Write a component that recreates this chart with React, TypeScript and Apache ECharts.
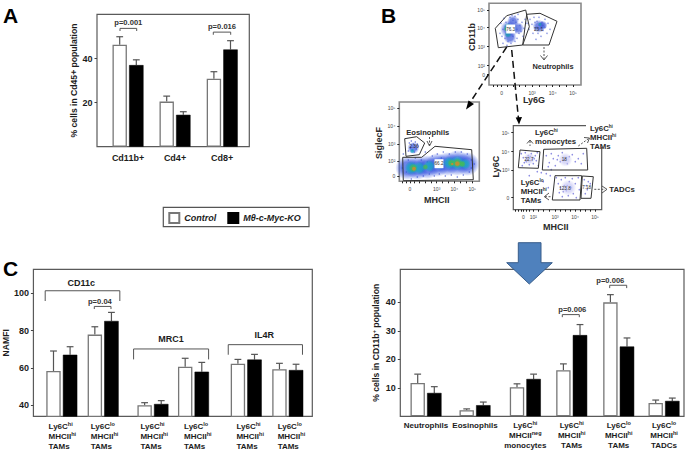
import React, { useEffect, useRef } from "react";
import * as echarts from "echarts";

const FONT = "'Liberation Sans', Arial, sans-serif";
const INK = "#1c1c1c";
const BOX = "#5a5a5a";
const CONTROL = "Control";
const KO = "Mθ-c-Myc-KO";

// Panel A
const aCats = ["Cd11b+", "Cd4+", "Cd8+"];
const aSlots = [31, 78, 125.2];
const aWhite = [46.4, 20.5, 30.9];
const aWhiteTop = [50, 23, 34.1];
const aBlack = [37.1, 14.5, 44.2];
const aBlackTop = [39.5, 15.9, 48.2];
const aTicks = [20, 40];
const aBrackets = [
  { x0: 23, x1: 39.7, top: 53.8, bottom: 52.6, lx: 31.3, ly: 56.4, text: "p=0.001" },
  { x0: 116.3, x1: 133.7, top: 52.1, bottom: 50.9, lx: 125, ly: 54.5, text: "p=0.016" },
];

// Panel C
const cCats = [
  "Ly6C{s|hi}\nMHCII{s|hi}\nTAMs", "Ly6C{s|lo}\nMHCII{s|hi}\nTAMs",
  "Ly6C{s|hi}\nMHCII{s|hi}\nTAMs", "Ly6C{s|lo}\nMHCII{s|hi}\nTAMs",
  "Ly6C{s|hi}\nMHCII{s|hi}\nTAMs", "Ly6C{s|lo}\nMHCII{s|hi}\nTAMs",
];
const cSlots = [28.9, 71, 121.7, 163, 216.7, 259];
const cLabelSlots = [15.4, 58.4, 109, 153.4, 206.7, 248.7];
const cWhite = [58.4, 77.9, 40, 60.7, 62.3, 59.3];
const cWhiteTop = [69.1, 82.1, 41.4, 65.2, 64.6, 62.5];
const cBlack = [67.1, 85.2, 40.7, 58, 64.5, 58.9];
const cBlackTop = [71.4, 89.8, 42.5, 63, 67.3, 62];
const cTicks = [40, 60, 80, 100];
const cBrackets = [
  { x0: 12, x1: 88, top: 101.4, bottom: 95.9, lx: 48.7, ly: 105.7, text: "CD11c", big: true },
  { x0: 62, x1: 79, top: 93, bottom: 91.6, lx: 67.7, ly: 95.7, text: "p=0.04" },
  { x0: 102, x1: 178.4, top: 70.2, bottom: 64.6, lx: 140, ly: 75.7, text: "MRC1", big: true },
  { x0: 198.4, x1: 274, top: 72.5, bottom: 67.1, lx: 235, ly: 77.9, text: "IL4R", big: true },
];

// Panel D
const dCats = [
  "Neutrophils", "Eosinophils", "Ly6C{s|hi}\nMHCII{s|neg}\nmonocytes",
  "Ly6C{s|hi}\nMHCII{s|hi}\nTAMs", "Ly6C{s|lo}\nMHCII{s|hi}\nTAMs", "Ly6C{s|lo}\nMHCII{s|hi}\nTADCs",
];
const dSlots = [25.7, 74.7, 125, 171.4, 218.4, 263.7];
const dWhite = [11.7, 2.1, 10.2, 16.2, 40, 4.7];
const dWhiteTop = [14.8, 2.6, 11.4, 18.4, 42.7, 5.7];
const dBlack = [8.2, 3.9, 13.1, 28.5, 24.5, 5.4];
const dBlackTop = [10.4, 5, 14.8, 32.2, 27.5, 6.4];
const dTicks = [10, 20, 30, 40];
const dBrackets = [
  { x0: 162, x1: 179, top: 35.7, bottom: 34.8, lx: 172, ly: 37.5, text: "p=0.006" },
  { x0: 209.4, x1: 226.4, top: 46, bottom: 45, lx: 210, ly: 47.5, text: "p=0.006" },
];

// Flow plots: positions are in each plot's own axis units
const logLabels = ["0", "10³", "10⁴", "10⁵"];
const topXTicks = [12.7, 43, 63.7, 84];
const topXMarks = [4, 8, 12.7, 18, 24, 30, 36, 43, 50, 57, 63.7, 70, 77, 84];
const topYTicks = [6.7, 24.4, 43.4, 62.4, 71.4];
const topYLabels = ["10⁵", "10⁴", "10³", "10²", "0"];
const leftXTicks = [10.7, 37.4, 55, 73];
const leftXMarks = [3, 7, 10.7, 15, 20, 26, 32, 37.4, 43, 49, 55, 61, 67, 73];
const leftYTicks = [6.3, 24, 42, 59.3, 74];
const leftYLabels = ["10⁵", "10⁴", "10³", "10²", "0"];
const rightXTicks = [10, 20, 41.7, 61.7, 81.7];
const rightXMarks = [2, 5, 8, 10, 13, 16, 20, 25, 30, 36, 41.7, 47, 52, 57, 61.7, 67, 72, 77, 81.7];
const rightXLabels = ["0", "10²", "10³", "10⁴", "10⁵"];
const rightYTicks = [7, 26, 44.3, 72];
const rightYLabels = ["10⁵", "10⁴", "10³", "0"];

const topDots = [[12,20],[14,26],[15,15],[17,19],[18,31],[16,35],[19,38],[21,14],[23,12],[24,17],[26,13],[27,19],[29,16],[31,22],[33,19],[28,26],[30,30],[32,28],[35,25],[34,33],[28,35],[26,38],[22,40],[18,42],[14,40],[11,30],[13,33],[24,33],[25,29],[20,20],[29,11],[36,16],[38,20],[40,26],[41,16],[43,21],[44,30],[45,14],[46,25],[47,36],[48,18],[49,30],[50,14],[52,33],[53,19],[54,27],[56,16],[56,24],[58,30],[59,20],[61,26],[48,24],[50,22],[52,20],[54,22],[51,25],[46,19]];
const topBlue = [[20,26,18],[21,34,13],[24,18,12],[29,25,12],[50,23,13],[54,22,9]];
const topTeal = [[19,24,9],[19,31,7],[51,21,4]];
const topGreen = [[17,26,4]];

const leftDots = [[10,41],[12,39],[14,42],[16,40],[11,46],[13,48],[15,50],[17,47],[19,44],[9,49],[18,42],[4,52],[7,70],[9,58],[12,77],[16,56],[18,75],[22,58],[24,74],[28,60],[30,72],[33,54],[35,74],[38,52],[40,72],[44,50],[46,74],[50,52],[52,73],[56,50],[58,75],[62,50],[64,73],[68,52],[70,70],[72,58],[72,66],[75,62],[3,66],[26,50],[42,56]];
const leftBlue = [[8,66,24],[18,66,24],[28,65,24],[38,63,24],[48,62,24],[58,61,26],[68,62,24],[14,46,12]];
const leftTeal = [[12,66,14],[20,66,13],[30,64,12],[40,62,11],[50,61,13],[58,61,15],[66,62,11],[13,49,5]];
const leftGreen = [[14,66,9],[26,65,6],[52,61,8],[58,61,10],[63,62,7]];
const leftHot = [[14.7,66.7,5],[58,61.7,6],[53,62,3]];

const rightDots = [[8,28],[10,32],[12,27],[13,36],[15,30],[16,39],[18,28],[19,34],[20,38],[22,30],[23,35],[24,27],[11,37],[14,33],[17,31],[21,33],[9,40],[25,40],[33,30],[36,37],[38,28],[40,33],[42,40],[45,30],[47,36],[49,27],[51,34],[54,38],[56,31],[59,29],[62,36],[65,33],[68,38],[70,28],[35,41],[44,34],[43,52],[45,58],[46,67],[48,54],[49,71],[51,60],[52,52],[53,65],[55,70],[56,56],[58,62],[59,53],[60,68],[62,58],[63,72],[65,52],[66,64],[47,62],[54,60],[50,66],[71,54],[73,60],[75,56],[72,68],[74,64],[77,58],[28,47],[33,48],[37,50],[24,46],[30,56],[35,62],[16,50],[38,44]];
const rightBlue = [[16,33,12],[52,34,14],[55,62,16]];

const topGates = [
  [[6.3,25],[17.7,12.4],[36.7,6.7],[40.3,23.4],[33.7,41.7],[9.3,44.4],[6.3,25]],
  [[37.7,11],[51,10],[68,18],[60,41.7],[33.7,41.7],[37.7,11]],
];
const leftGates = [
  [[5.4,36.7],[17.4,34.7],[25.4,41],[20,52.7],[6.7,54.3],[5.4,36.7]],
  [[3.4,55.3],[22.4,55.3],[35.7,44.3],[72.4,47.7],[74,77.7],[4,78.7],[3.4,55.3]],
];
const rightGates = [
  [[6.7,24.3],[26.7,26],[25,42.6],[5,42],[6.7,24.3]],
  [[30.4,23.6],[73.4,22.6],[74.4,44.3],[29,44.3],[30.4,23.6]],
  [[41.7,50],[68.4,50],[66.7,74.3],[39,74.3],[41.7,50]],
  [[69,50.3],[80,51],[77.7,72.6],[67.7,72.6],[69,50.3]],
];

const BAR_W = 14.4;
const BAR_GAP = 2.2;
const supRich = { s: { fontFamily: FONT, fontSize: 5.5, fontWeight: "bold", color: INK, verticalAlign: "top", lineHeight: 8 } };

function errorSeries(xAxisIndex: number, slots: number[], base: number[], tops: number[], side: number) {
  return {
    type: "custom", xAxisIndex, yAxisIndex: xAxisIndex, silent: true, clip: false, z: 1,
    encode: { x: 0, y: 1 },
    data: slots.map((s, i) => [s, tops[i], base[i]]),
    renderItem: (_: any, api: any) => {
      const a = api.coord([api.value(0), api.value(1)]);
      const b = api.coord([api.value(0), api.value(2)]);
      const x = a[0] + (side * (BAR_W + BAR_GAP)) / 2;
      const st = { stroke: "#555", lineWidth: 1.2 };
      return {
        type: "group",
        children: [
          { type: "line", shape: { x1: x, y1: a[1], x2: x, y2: b[1] }, style: st },
          { type: "line", shape: { x1: x - 3.4, y1: a[1], x2: x + 3.4, y2: a[1] }, style: st },
        ],
      };
    },
  };
}

function bracketSeries(xAxisIndex: number, list: any[]) {
  return {
    type: "custom", xAxisIndex, yAxisIndex: xAxisIndex, silent: true, clip: false, z: 2,
    encode: { x: 0, y: 1 },
    data: list.map((b) => [b.x0, b.top]),
    renderItem: (p: any, api: any) => {
      const b = list[p.dataIndex];
      const l = api.coord([b.x0, b.bottom]);
      const t = api.coord([b.x0, b.top]);
      const r = api.coord([b.x1, b.top]);
      const c = api.coord([b.lx, b.ly]);
      return {
        type: "group",
        children: [
          { type: "polyline", shape: { points: [[l[0], l[1]], [t[0], t[1]], [r[0], r[1]], [r[0], l[1]]] }, style: { stroke: "#555", lineWidth: 1, fill: "none" } },
          { type: "text", x: c[0], y: c[1], style: { text: b.text, x: 0, y: 0, align: "center", verticalAlign: "middle", fontFamily: FONT, fontWeight: "bold", fontSize: b.big ? 9 : 7.6, fill: b.big ? INK : "#333" } },
        ],
      };
    },
  };
}

function barSeries(idx: number, slots: number[], white: number[], whiteTop: number[], black: number[], blackTop: number[], brackets: any[]) {
  const common = { type: "bar", xAxisIndex: idx, yAxisIndex: idx, barWidth: BAR_W, barGap: `${(BAR_GAP / BAR_W) * 100}%`, z: 3 };
  return [
    errorSeries(idx, slots, white, whiteTop, -1),
    errorSeries(idx, slots, black, blackTop, 1),
    { ...common, name: CONTROL, data: slots.map((s, i) => [s, white[i]]), itemStyle: { color: "#fff", borderColor: "#777", borderWidth: 1.3 } },
    { ...common, name: KO, data: slots.map((s, i) => [s, black[i]]), itemStyle: { color: "#000", borderColor: "#000", borderWidth: 0.5 } },
    bracketSeries(idx, brackets),
  ];
}

const fade = (c: string) => ({
  type: "radial", x: 0.5, y: 0.5, r: 0.5,
  colorStops: [{ offset: 0, color: c }, { offset: 0.5, color: c }, { offset: 1, color: c + "00" }],
});

function flowSeries(idx: number, dots: number[][], dotColor: string, layers: [number[][], string][], gates: number[][][]) {
  const out: any[] = [
    { type: "scatter", xAxisIndex: idx, yAxisIndex: idx, silent: true, symbolSize: 1.6, data: dots, itemStyle: { color: dotColor, opacity: 0.85 }, z: 1 },
  ];
  layers.forEach(([data, color], i) =>
    out.push({ type: "scatter", xAxisIndex: idx, yAxisIndex: idx, silent: true, data, symbolSize: (v: number[]) => v[2], itemStyle: { color: fade(color), opacity: 0.7 }, z: 2 + i }),
  );
  gates.forEach((g) =>
    out.push({ type: "line", xAxisIndex: idx, yAxisIndex: idx, silent: true, data: g, showSymbol: false, symbol: "none", clip: false, lineStyle: { color: "#333", width: 1 }, z: 8 }),
  );
  return out;
}

const valueTickStyle = { show: true, length: 2.5, lineStyle: { color: "#444", width: 1 } };

function barAxes(width: number, min: number, max: number, slots: number[], labels: string[], ticks: number[], name: string, nameGap: number, labelCfg: any, labelSize: number) {
  return {
    x: {
      type: "value", min: 0, max: width, splitLine: { show: false }, axisLine: { show: false }, axisTick: { show: false },
      axisLabel: {
        customValues: slots, formatter: (v: number) => labels[slots.indexOf(Number(v))],
        fontFamily: FONT, fontWeight: "bold", fontSize: labelSize, color: INK, lineHeight: 10, rich: supRich, ...labelCfg,
      },
    },
    y: {
      type: "value", min, max, splitLine: { show: false }, axisLine: { show: false },
      axisTick: { ...valueTickStyle, customValues: ticks },
      axisLabel: { customValues: ticks, fontFamily: FONT, fontWeight: "bold", fontSize: 9, color: INK, margin: 4.5 },
      name, nameLocation: "middle", nameGap,
      nameTextStyle: { fontFamily: FONT, fontWeight: "bold", fontSize: 8.6, color: INK, rich: { s: { fontFamily: FONT, fontWeight: "bold", fontSize: 6, color: INK, verticalAlign: "top" } } },
    },
  };
}

function flowAxes(w: number, h: number, xt: number[], xm: number[], xl: string[], yt: number[], yl: string[]) {
  const lab = (vals: number[], texts: string[], margin: number) => ({
    customValues: vals, formatter: (v: number) => texts[vals.indexOf(Number(v))], fontFamily: FONT, fontSize: 5, color: "#444", margin,
  });
  return {
    x: {
      type: "value", min: 0, max: w, position: "bottom", splitLine: { show: false }, axisLine: { show: false, onZero: false },
      axisTick: { show: true, length: 2, customValues: xm, lineStyle: { color: "#222" } }, axisLabel: lab(xt, xl, 5),
    },
    y: {
      type: "value", min: 0, max: h, inverse: true, splitLine: { show: false }, axisLine: { show: false, onZero: false },
      axisTick: { show: true, length: 2, customValues: yt, lineStyle: { color: "#222" } }, axisLabel: lab(yt, yl, 4),
    },
  };
}

const txt = (x: number, y: number, text: string, o: any = {}, rotation = 0) => ({
  type: "text", x, y, z: 20, silent: true, rotation,
  style: {
    text, fontFamily: FONT, fontWeight: "bold", fontSize: 8, fill: "#2a2a2a", align: "left", verticalAlign: "middle", lineHeight: 9,
    rich: { s: { fontFamily: FONT, fontSize: 4.6, fontWeight: "bold", fill: "#2a2a2a", verticalAlign: "top", lineHeight: 6 } },
    ...o,
  },
});
const seg = (x1: number, y1: number, x2: number, y2: number, o: any = {}) => ({
  type: "line", z: 15, silent: true, shape: { x1, y1, x2, y2 }, style: { stroke: "#555", lineWidth: 1, lineDash: [2, 1.5], ...o },
});
const chevron = (pts: number[][]) => ({
  type: "polyline", z: 15, silent: true, shape: { points: pts }, style: { stroke: "#444", lineWidth: 0.9, fill: "none" },
});

export default function App() {
  const ref = useRef<HTMLDivElement>(null);
  useEffect(() => {
    const chart = echarts.init(ref.current!, undefined, { renderer: "svg" });
    const gridStyle = { show: true, borderColor: BOX, borderWidth: 1.2, backgroundColor: "transparent", containLabel: false };
    const lightFrame = { borderColor: "#8a8a8a", borderWidth: 1.6 };
    const grids = [
      { ...gridStyle, left: 97, top: 14.3, width: 152.3, height: 132.4 },
      { ...gridStyle, left: 28.3, top: 269.3, width: 284, height: 147 },
      { ...gridStyle, left: 400.3, top: 269.3, width: 283.7, height: 147 },
      { ...gridStyle, ...lightFrame, left: 489, top: 3.3, width: 92, height: 81.7 },
      { ...gridStyle, ...lightFrame, left: 399.3, top: 102, width: 80, height: 79.3 },
      { ...gridStyle, left: 513.3, top: 125.7, width: 88.4, height: 84 },
    ];

    const A = barAxes(152.3, 0, 60.2, aSlots, aCats, aTicks, "% cells in Cd45+ population", 16, { fontSize: 9, margin: 6 }, 9);
    const C = barAxes(284, 34.1, 112.9, cLabelSlots, cCats, cTicks, "NAMFI", 10, { align: "left", margin: 5 }, 8);
    const D = barAxes(283.7, 0, 51.6, dSlots, dCats, dTicks, "% cells in CD11b{s|+} population", 20, { margin: 4 }, 8);
    const T = flowAxes(92, 81.7, topXTicks, topXMarks, logLabels, topYTicks, topYLabels);
    const L = flowAxes(80, 79.3, leftXTicks, leftXMarks, logLabels, leftYTicks, leftYLabels);
    const R = flowAxes(88.4, 84, rightXTicks, rightXMarks, rightXLabels, rightYTicks, rightYLabels);
    const UP = Math.PI / 2;

    const graphic: any[] = [
      txt(3, 15.5, "A", { fontSize: 21, fill: "#000" }),
      txt(381, 15, "B", { fontSize: 21, fill: "#000" }),
      txt(3, 268.5, "C", { fontSize: 21, fill: "#000" }),

      txt(472, 37, "CD11b", { fontSize: 9, align: "center" }, UP),
      txt(534, 100, "Ly6G", { fontSize: 9, align: "center" }),
      txt(553, 66, "Neutrophils", { fontSize: 7.4, align: "center" }),
      txt(510.7, 29, "76.3", { fontSize: 4.6, align: "center", fontWeight: "normal", backgroundColor: "#fff" }),
      txt(538.5, 29, "23.1", { fontSize: 4.6, align: "center", fontWeight: "normal" }),
      seg(544, 47, 544, 59),
      chevron([[540.5, 55.5], [544, 60], [547.5, 55.5]]),

      txt(379, 143, "SiglecF", { fontSize: 9, align: "center" }, UP),
      txt(436.7, 200, "MHCII", { fontSize: 9, align: "center" }),
      txt(427.7, 132.7, "Eosinophils", { fontSize: 7.6, align: "center" }),
      txt(439, 163.7, "66.2", { fontSize: 4.6, align: "center", fontWeight: "normal", backgroundColor: "#fff" }),
      txt(414, 146.7, "2.36", { fontSize: 4.6, align: "center", fontWeight: "normal" }),
      seg(429.5, 137, 429.5, 145),
      chevron([[427, 141], [429.5, 146], [432, 141]]),

      { type: "rect", z: 12, silent: true, shape: { x: 586, y: 123, width: 17, height: 24 }, style: { fill: "#fff" } },
      txt(495.7, 166.7, "Ly6C", { fontSize: 9, align: "center" }, UP),
      txt(555.7, 227.3, "MHCII", { fontSize: 9, align: "center" }),
      txt(535, 137, "Ly6C{s|hi}\nmonocytes", { fontSize: 7.8 }),
      txt(590, 137, "Ly6C{s|hi}\nMHCII{s|hi}\nTAMs", { fontSize: 7.8 }),
      txt(520.7, 191, "Ly6C{s|lo}\nMHCII{s|hi}\nTAMs", { fontSize: 7.8 }),
      txt(609.3, 189.7, "TADCs", { fontSize: 7.8 }),
      txt(529, 159, "22.7", { fontSize: 4.6, align: "center", fontWeight: "normal" }),
      txt(564.3, 159, "18", { fontSize: 4.6, align: "center", fontWeight: "normal" }),
      txt(565, 188, "123.8", { fontSize: 4.6, align: "center", fontWeight: "normal" }),
      txt(586.7, 187.7, "7.18", { fontSize: 4.6, align: "center", fontWeight: "normal" }),
      seg(594.3, 189.3, 605, 189.3),
      chevron([[602, 186], [607, 189.3], [602, 193]]),
      seg(578.3, 146, 589, 138.3),
      chevron([[584, 137.5], [589.5, 138], [587.5, 143]]),
      seg(530, 141, 530, 146),
      chevron([[527, 143.5], [530, 140], [533, 143.5]]),
      seg(545, 196.7, 552, 196.7),
      chevron([[549, 193], [544.3, 196.7], [549, 200]]),

      seg(506.7, 47, 469, 104, { stroke: "#111", lineWidth: 1.5, lineDash: [7, 4] }),
      { type: "polygon", z: 15, silent: true, shape: { points: [[466, 109.5], [468.5, 100.5], [474, 104]] }, style: { fill: "#000" } },
      seg(511.7, 50, 518.5, 119, { stroke: "#111", lineWidth: 1.5, lineDash: [7, 4] }),
      { type: "polygon", z: 15, silent: true, shape: { points: [[519, 124.5], [515.7, 117.5], [522, 117]] }, style: { fill: "#000" } },

      {
        type: "polygon", z: 16, silent: true,
        shape: { points: [[518.3, 242.7], [541, 242.7], [541, 262.7], [552.3, 262.7], [529.3, 284], [506.7, 262.7], [518.3, 262.7]] },
        style: { fill: "#4F81BD", stroke: "#385D8A", lineWidth: 1 },
      },
      { type: "rect", z: 11, silent: true, shape: { x: 163.3, y: 207.3, width: 145.7, height: 19.4 }, style: { fill: "none", stroke: "#555", lineWidth: 1.2 } },
    ];

    chart.setOption({
      animation: false,
      backgroundColor: "#fff",
      textStyle: { fontFamily: FONT },
      grid: grids,
      xAxis: [A.x, C.x, D.x, T.x, L.x, R.x].map((a, i) => ({ ...a, gridIndex: i })),
      yAxis: [A.y, C.y, D.y, T.y, L.y, R.y].map((a, i) => ({ ...a, gridIndex: i })),
      legend: {
        data: [CONTROL, KO], left: 163.3, top: 207.3, orient: "horizontal", icon: "rect", itemWidth: 10, itemHeight: 10, itemGap: 11, selectedMode: false,
        padding: [4.7, 6, 4.7, 5],
        textStyle: { fontFamily: FONT, fontWeight: "bold", fontStyle: "italic", fontSize: 9, color: INK },
      },
      series: [
        ...barSeries(0, aSlots, aWhite, aWhiteTop, aBlack, aBlackTop, aBrackets),
        ...barSeries(1, cSlots, cWhite, cWhiteTop, cBlack, cBlackTop, cBrackets),
        ...barSeries(2, dSlots, dWhite, dWhiteTop, dBlack, dBlackTop, dBrackets),
        ...flowSeries(3, topDots, "#7f8ce0", [[topBlue, "#3a55d8"], [topTeal, "#17a0b0"], [topGreen, "#35b060"]], topGates),
        ...flowSeries(4, leftDots, "#7f8ce0", [[leftBlue, "#3050e0"], [leftTeal, "#12b0c0"], [leftGreen, "#4cc040"], [leftHot, "#f08020"]], leftGates),
        ...flowSeries(5, rightDots, "#7a7ade", [[rightBlue, "#c8c8f4"]], rightGates),
      ],
      graphic,
    });
    return () => chart.dispose();
  }, []);
  return <div ref={ref} style={{ position: "absolute", left: 0, top: 0, width: 688, height: 453 }} />;
}
